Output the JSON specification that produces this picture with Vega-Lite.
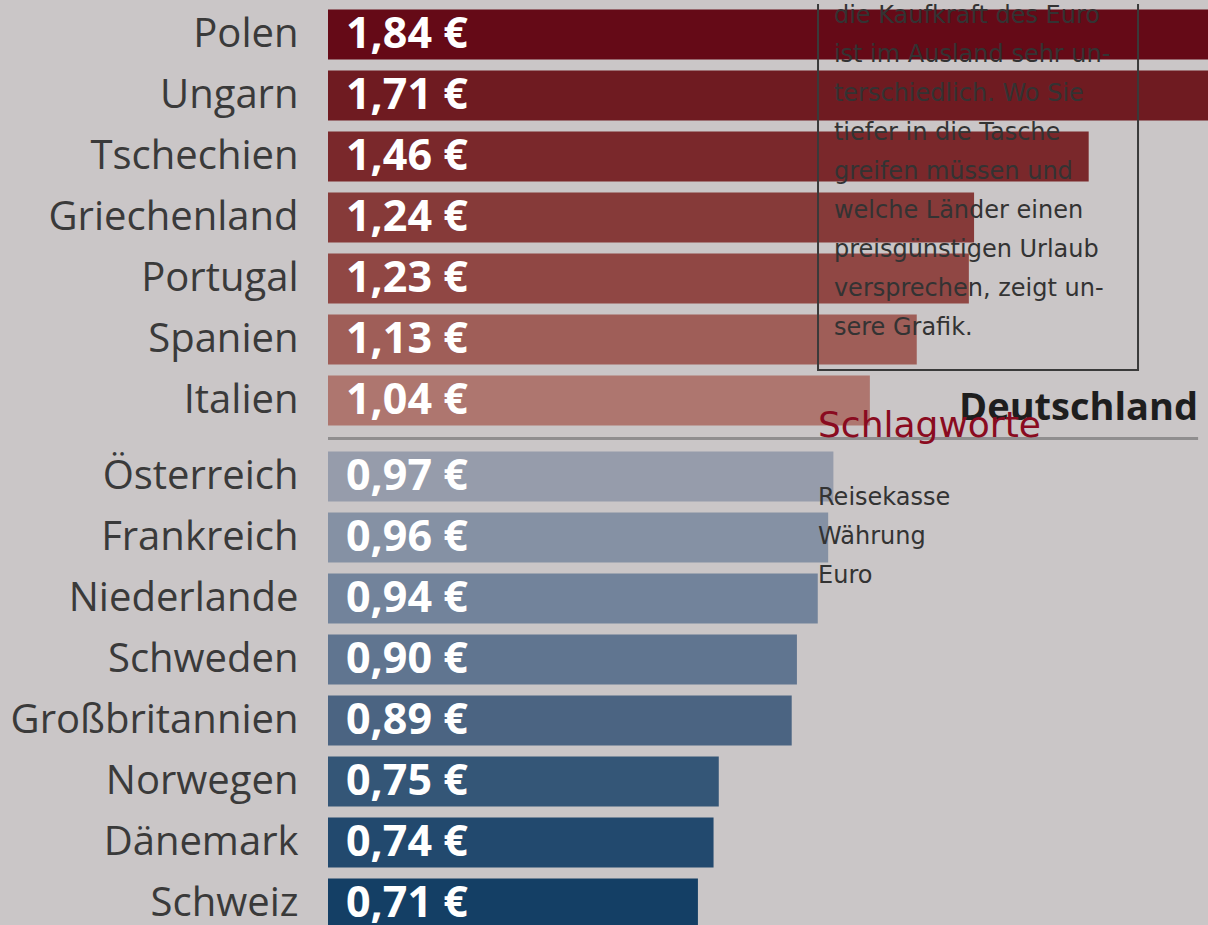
{
  "$schema": "https://vega.github.io/schema/vega-lite/v6.json",
  "background": "#cac6c7",
  "padding": {"left": 0, "top": 3, "right": 0, "bottom": 0},
  "spacing": 15,
  "bounds": "flush",
  "datasets": {
    "oben": [
      {"land": "Polen", "wert": 1.84},
      {"land": "Ungarn", "wert": 1.71},
      {"land": "Tschechien", "wert": 1.46},
      {"land": "Griechenland", "wert": 1.24},
      {"land": "Portugal", "wert": 1.23},
      {"land": "Spanien", "wert": 1.13},
      {"land": "Italien", "wert": 1.04}
    ],
    "unten": [
      {"land": "Österreich", "wert": 0.97},
      {"land": "Frankreich", "wert": 0.96},
      {"land": "Niederlande", "wert": 0.94},
      {"land": "Schweden", "wert": 0.90},
      {"land": "Großbritannien", "wert": 0.89},
      {"land": "Norwegen", "wert": 0.75},
      {"land": "Dänemark", "wert": 0.74},
      {"land": "Schweiz", "wert": 0.71}
    ]
  },
  "vconcat": [
    {
      "width": 880,
      "height": {"step": 61},
      "data": {"name": "oben"},
      "encoding": {
        "y": {"field": "land", "type": "nominal", "sort": null, "title": null,
              "scale": {"paddingInner": 0.18, "paddingOuter": 0.09}},
        "x": {"type": "quantitative", "axis": null}
      },
      "layer": [
        {
          "mark": {"type": "bar", "clip": true},
          "encoding": {
            "x": {"field": "wert", "type": "quantitative", "axis": null, "scale": {"domain": [0, 1.689], "nice": false, "zero": true}},
            "color": {"field": "land", "type": "nominal", "legend": null,
              "scale": {
                "domain": ["Polen", "Ungarn", "Tschechien", "Griechenland", "Portugal", "Spanien", "Italien", "Österreich", "Frankreich", "Niederlande", "Schweden", "Großbritannien", "Norwegen", "Dänemark", "Schweiz"],
                "range": ["#650a17", "#6f1b21", "#7a282b", "#863a39", "#904744", "#9f5e58", "#ae766f", "#969cab", "#8591a4", "#72839b", "#607590", "#4b6482", "#345677", "#22496e", "#143f65"]}}
          }
        },
        {
          "mark": {"type": "text", "align": "left", "baseline": "middle", "dx": 18, "font": "Open Sans", "fontWeight": "bold", "fontSize": 43, "color": "white"},
          "encoding": {
            "x": {"datum": 0, "type": "quantitative"},
            "text": {"field": "wert", "type": "quantitative", "format": "$.2f"}
          }
        },
        {
          "data": {"values": [{"bezug": "Deutschland", "wert": 1.0}]},
          "mark": {"type": "rule", "color": "#908e8f", "strokeWidth": 3, "yOffset": 38},
          "encoding": {
            "x": {"datum": 0, "type": "quantitative"},
            "x2": {"datum": 1.67},
            "y": {"datum": "Italien", "type": "nominal"}
          }
        },
        {
          "data": {"values": [{"bezug": "Deutschland"}]},
          "mark": {"type": "text", "align": "right", "baseline": "alphabetic", "yOffset": 19, "font": "Open Sans", "fontWeight": "bold", "fontSize": 38, "color": "#1e1e1e"},
          "encoding": {
            "x": {"datum": 1.67, "type": "quantitative"},
            "y": {"datum": "Italien", "type": "nominal"},
            "text": {"field": "bezug"}
          }
        },
        {
          "data": {"values": [{"kasten": 1}]},
          "mark": {"type": "rect", "fill": null, "fillOpacity": 0, "stroke": "#3a3a3a", "strokeWidth": 2, "clip": true, "yOffset": -50, "y2Offset": 30.5},
          "encoding": {
            "x": {"datum": 0.9405, "type": "quantitative"},
            "x2": {"datum": 1.5547},
            "y": {"datum": "Polen", "type": "nominal"},
            "y2": {"datum": "Spanien"}
          }
        },
        {
          "data": {"values": [{"absatz": ["die Kaufkraft des Euro", "ist im Ausland sehr un-", "terschiedlich. Wo Sie", "tiefer in die Tasche", "greifen müssen und", "welche Länder einen", "preisgünstigen Urlaub", "versprechen, zeigt un-", "sere Grafik."]}]},
          "mark": {"type": "text", "align": "left", "baseline": "alphabetic", "yOffset": -12, "lineHeight": 39, "font": "DejaVu Sans", "fontSize": 24, "color": "#333333"},
          "encoding": {
            "x": {"datum": 0.971, "type": "quantitative"},
            "y": {"datum": "Polen", "type": "nominal"},
            "text": {"field": "absatz"}
          }
        }
      ]
    },
    {
      "width": 880,
      "height": 480,
      "data": {"name": "unten"},
      "encoding": {
        "y": {"field": "land", "type": "nominal", "sort": null, "title": null,
              "scale": {"paddingInner": 0.18, "paddingOuter": 0.09, "range": [0, 488]}},
        "x": {"type": "quantitative", "axis": null}
      },
      "layer": [
        {
          "mark": {"type": "bar", "clip": true},
          "encoding": {
            "x": {"field": "wert", "type": "quantitative", "axis": null, "scale": {"domain": [0, 1.689], "nice": false, "zero": true}},
            "color": {"field": "land", "type": "nominal", "legend": null,
              "scale": {
                "domain": ["Polen", "Ungarn", "Tschechien", "Griechenland", "Portugal", "Spanien", "Italien", "Österreich", "Frankreich", "Niederlande", "Schweden", "Großbritannien", "Norwegen", "Dänemark", "Schweiz"],
                "range": ["#650a17", "#6f1b21", "#7a282b", "#863a39", "#904744", "#9f5e58", "#ae766f", "#969cab", "#8591a4", "#72839b", "#607590", "#4b6482", "#345677", "#22496e", "#143f65"]}}
          }
        },
        {
          "mark": {"type": "text", "align": "left", "baseline": "middle", "dx": 18, "font": "Open Sans", "fontWeight": "bold", "fontSize": 43, "color": "white", "clip": true},
          "encoding": {
            "x": {"datum": 0, "type": "quantitative"},
            "text": {"field": "wert", "type": "quantitative", "format": "$.2f"}
          }
        },
        {
          "data": {"values": [{"titel": "Schlagworte"}]},
          "mark": {"type": "text", "align": "left", "baseline": "alphabetic", "yOffset": -40, "font": "DejaVu Sans", "fontSize": 36, "color": "#8a0b20"},
          "encoding": {
            "x": {"datum": 0.9405, "type": "quantitative"},
            "y": {"datum": "Österreich", "type": "nominal"},
            "text": {"field": "titel"}
          }
        },
        {
          "data": {"values": [{"worte": ["Reisekasse", "Währung", "Euro"]}]},
          "mark": {"type": "text", "align": "left", "baseline": "alphabetic", "yOffset": 28, "lineHeight": 39, "font": "DejaVu Sans", "fontSize": 24, "color": "#333333"},
          "encoding": {
            "x": {"datum": 0.9405, "type": "quantitative"},
            "y": {"datum": "Österreich", "type": "nominal"},
            "text": {"field": "worte"}
          }
        }
      ]
    }
  ],
  "config": {
    "locale": {"number": {"decimal": ",", "thousands": ".", "grouping": [3], "currency": ["", " €"]}},
    "view": {"stroke": null},
    "axisY": {"domain": false, "ticks": false, "tickSize": 0, "grid": false, "labelFont": "Open Sans", "labelFontWeight": "normal", "labelFontSize": 40, "labelColor": "#3a3a3a", "labelPadding": 30, "minExtent": 328, "maxExtent": 328, "labelLimit": 400}
  }
}
